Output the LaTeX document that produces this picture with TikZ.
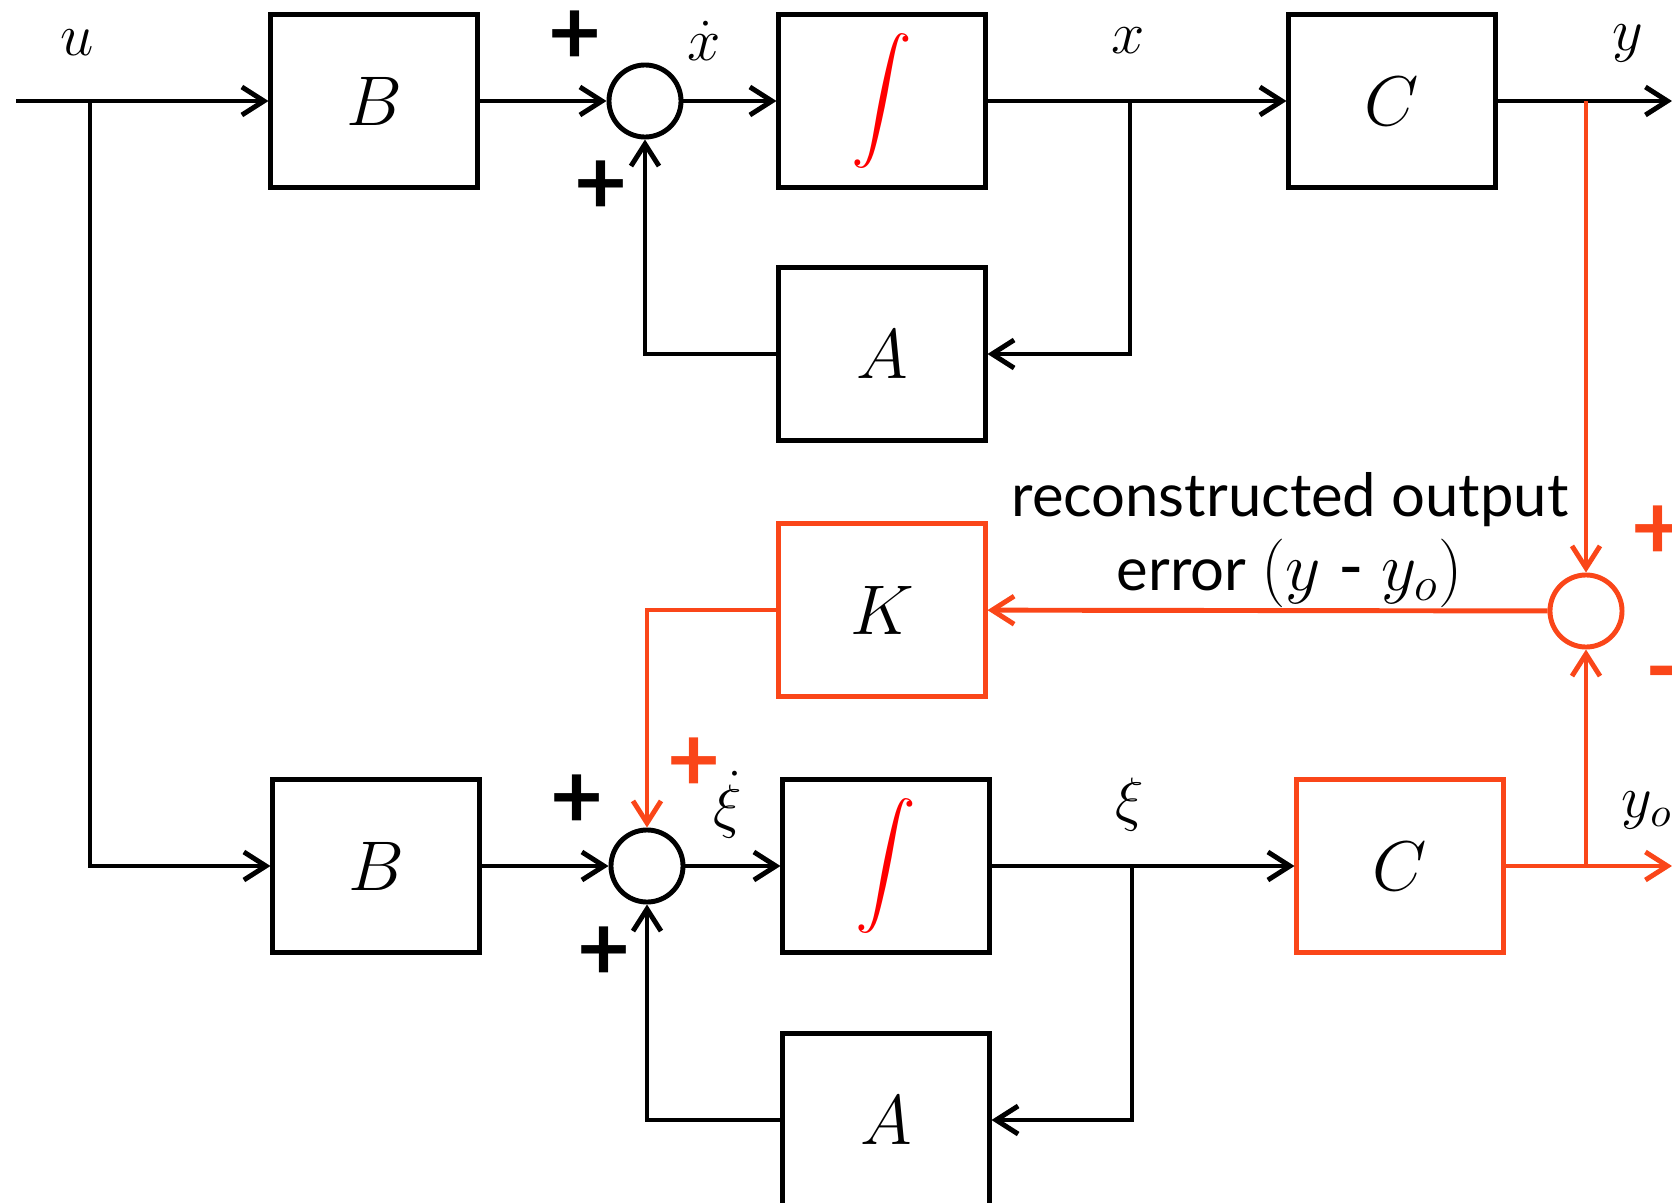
\RequirePackage{fix-cm}
\documentclass[tikz,border=0pt]{standalone}
\usepackage{exscale}
\usepackage{fontspec}
\setsansfont{Lato}
\usetikzlibrary{arrows.meta}
\definecolor{obsred}{RGB}{250,70,25}

\begin{document}
\begin{tikzpicture}[x=0.01cm,y=-0.01cm,
  block/.style={draw,line width=1.4pt,minimum width=2.06cm,minimum height=1.72cm,inner sep=0pt,font=\fontsize{20}{24}\selectfont},
  sumnode/.style={draw,circle,line width=1.4pt,minimum size=0.72cm,inner sep=0pt},
  sig/.style={font=\fontsize{17}{20}\selectfont},
  sgn/.style={font=\fontsize{26}{30}\selectfont\sffamily\bfseries},
  >={Straight Barb[length=2.2mm,width=2.8mm]}]
\useasboundingbox (0,0) rectangle (1672,1203);

% plant
\path (374,101) node (B1) [block] {$B$};
\path (645,101) node (S1) [sumnode] {};
\path (882,101) node (I1) [block] {\fontsize{18}{20}\selectfont\color{red}$\displaystyle\int$};
\path (1392,101) node (C1) [block] {$C$};
\path (882,354) node (A1) [block] {$A$};

% observer
\path (882,610) node (K) [block,draw=obsred] {$K$};
\path (1586,611) node (S3) [sumnode,draw=obsred] {};
\path (376,866) node (B2) [block] {$B$};
\path (647,866) node (S2) [sumnode] {};
\path (886,866) node (I2) [block] {\fontsize{18}{20}\selectfont\color{red}$\displaystyle\int$};
\path (1400,866) node (C2) [block,draw=obsred] {$C$};
\path (886,1120) node (A2) [block] {$A$};

\coordinate (uin) at (16,101);
\coordinate (ubr) at (90,101);
\coordinate (xbr) at (1130,101);
\coordinate (ybr) at (1586,101);
\coordinate (yout) at (1672,101);
\coordinate (xibr) at (1132,866);
\coordinate (yobr) at (1586,866);
\coordinate (yoout) at (1672,866);

\begin{scope}[line width=1.4pt,->]
  \draw (uin) -- (B1);
  \draw (ubr) |- (B2);
  \draw (B1) -- (S1);
  \draw (S1) -- (I1);
  \draw (I1) -- (C1);
  \draw (xbr) |- (A1);
  \draw (A1) -| (S1);
  \draw (C1) -- (yout);
  \draw (B2) -- (S2);
  \draw (S2) -- (I2);
  \draw (I2) -- (C2);
  \draw (xibr) |- (A2);
  \draw (A2) -| (S2);
\end{scope}
\begin{scope}[line width=1.4pt,->,obsred]
  \draw (ybr) -- (S3);
  \draw (S3) -- (K);
  \draw (K) -| (S2);
  \draw (C2) -- (yoout);
  \draw (yobr) -- (S3);
\end{scope}

% signals
\node (lu) [sig] at (77,43) {$u$};
\node (lxd) [sig] at (704,41) {$\dot x$};
\node (lx) [sig] at (1128,41) {$x$};
\node (ly) [sig] at (1628,43) {$y$};
\node (lxid) [sig] at (728,805) {$\dot\xi$};
\node (lxi) [sig] at (1130,805) {$\xi$};
\node (lyo) [sig] at (1647,810) {$y_o$};
\node (err) [font=\sffamily\fontsize{17}{21}\selectfont,align=center] at (1290,540)
  {reconstructed output\\error {\fontsize{19.5}{21}\selectfont$(y$ - $y_o)$}};

% signs
\node (p1) [sgn] at (575,38) {+};
\node (p2) [sgn] at (601,188) {+};
\node (p3) [sgn] at (577,802) {+};
\node (p4) [sgn] at (604,954) {+};
\node (p5) [sgn,obsred] at (694,765) {+};
\node (p6) [sgn,obsred] at (1658,533) {+};
\node (m1) [sgn,obsred] at (1663,682) {-};
\end{tikzpicture}
\end{document}
